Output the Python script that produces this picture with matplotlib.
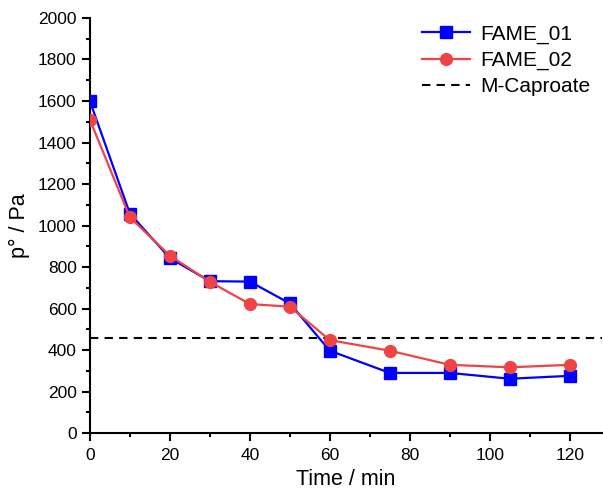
import matplotlib
matplotlib.use("Agg")
import matplotlib.pyplot as plt
from matplotlib.ticker import MultipleLocator

plt.rcParams['font.family'] = ['Liberation Sans', 'DejaVu Sans']

time = [0, 10, 20, 30, 40, 50, 60, 75, 90, 105, 120]
fame_01 = [1600, 1058, 843, 732, 730, 625, 397, 290, 290, 262, 276]
fame_02 = [1510, 1040, 855, 729, 622, 609, 448, 397, 329, 317, 329]
m_caproate = 460

fig = plt.figure(figsize=(6.03, 4.99), dpi=100)
ax = fig.add_axes([0.149, 0.132, 0.849, 0.832])

ax.plot(time, fame_01, color='#0000FF', marker='s', markersize=8, lw=1.6, label='FAME_01', zorder=3)
ax.plot(time, fame_02, color='#F04444', marker='o', markersize=8.5, lw=1.6, label='FAME_02', zorder=4)
ax.axhline(m_caproate, color='black', ls=(0, (4, 3)), lw=1.5, label='M-Caproate')

ax.set_xlim(0, 128)
ax.set_ylim(0, 2000)
ax.xaxis.set_major_locator(MultipleLocator(20))
ax.xaxis.set_minor_locator(MultipleLocator(10))
ax.yaxis.set_major_locator(MultipleLocator(200))
ax.yaxis.set_minor_locator(MultipleLocator(100))
for s in ['top', 'right']:
    ax.spines[s].set_visible(False)
for s in ['left', 'bottom']:
    ax.spines[s].set_linewidth(1.5)
ax.tick_params(which='major', direction='out', length=6, width=1.5, labelsize=12.5)
ax.tick_params(axis='x', which='major', pad=5)
ax.tick_params(which='minor', direction='out', length=3, width=1.5)
ax.set_xlabel('Time / min', fontsize=15.5, labelpad=4)
ax.set_ylabel('p° / Pa', fontsize=15.5, labelpad=6)

ax.legend(loc='upper right', frameon=False, fontsize=15, handlelength=2.3,
          borderaxespad=0.4, labelspacing=0.35, handletextpad=0.5,
          bbox_to_anchor=(1.01, 1.025))

fig.savefig('out.png', dpi=100)
